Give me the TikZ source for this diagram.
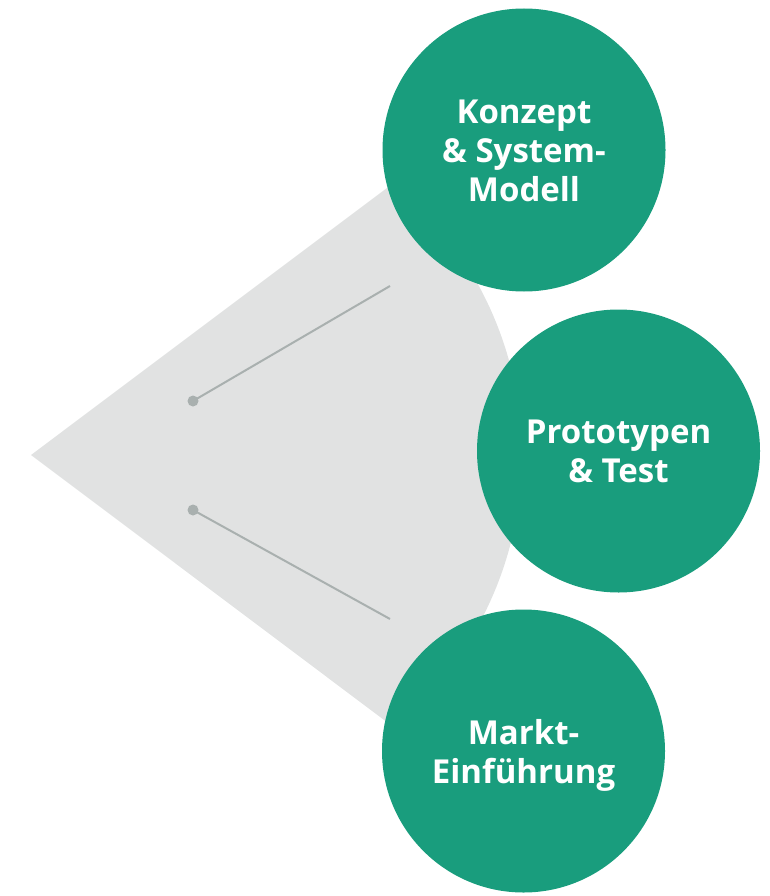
\documentclass[tikz,border=0pt]{standalone}
\usepackage{fontspec}
\setmainfont{Open Sans}
\definecolor{fgreen}{RGB}{25,157,125}
\definecolor{fgray}{RGB}{225,226,226}
\definecolor{lgray}{RGB}{169,176,175}
\tikzset{
  phase/.style={circle, fill=fgreen, minimum size=283pt, inner sep=0pt},
  phasetext/.style={text=white, align=center, font=\bfseries\fontsize{33}{39}\selectfont},
  leader/.style={draw=lgray, line width=2pt},
  dotmark/.style={circle, fill=lgray, minimum size=11pt, inner sep=0pt},
}
\begin{document}
\begin{tikzpicture}[x=1pt, y=-1pt]
\useasboundingbox (0,0) rectangle (770,896);
% gray sector
\fill[fgray] (31,455) -- (394,182.7) arc[start angle=-50.3, end angle=50.3, radius=354] -- cycle;
% leader lines
\node[dotmark] (d1) at (193,401) {};
\node[dotmark] (d2) at (193,510) {};
\coordinate (e1) at (390,286);
\coordinate (e2) at (390,619);
\draw[leader] (d1.center) -- (e1);
\draw[leader] (d2.center) -- (e2);
% circles
\node[phase] (c1) at (524,150) {};
\node[phase] (c2) at (618.5,451) {};
\node[phase] (c3) at (523.5,751) {};
\node[phasetext] (t1) at ([yshift=-1pt]c1) {Konzept\\\& System-\\Modell};
\node[phasetext] (t2) at (c2) {Prototypen\\\& Test};
\node[phasetext] (t3) at ([yshift=-4pt]c3) {Markt-\\Einführung};
\end{tikzpicture}
\end{document}
